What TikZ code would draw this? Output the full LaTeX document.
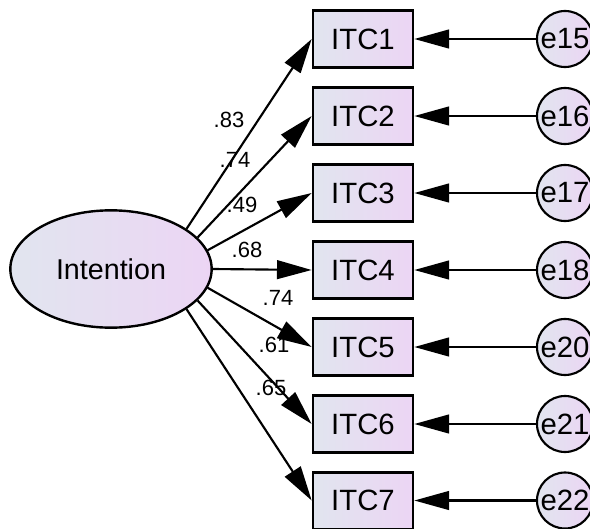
\documentclass[tikz,border=0pt]{standalone}
\usepackage{fontspec}
\setmainfont{Liberation Sans}
\usetikzlibrary{shapes.geometric,arrows.meta}

\definecolor{shadeL}{RGB}{225,229,239}
\definecolor{shadeR}{RGB}{236,213,244}

\tikzset{every picture/.style={line width=0.75pt}}
\tikzset{
  obs/.style={draw, line width=2, left color=shadeL, right color=shadeR, minimum width=75pt, minimum height=42.5pt, inner sep=0pt, font=\fontsize{22}{22}\selectfont},
  err/.style={draw, circle, line width=1.6, left color=shadeL, right color=shadeR, minimum size=42pt, inner sep=0pt, font=\fontsize{22}{22}\selectfont},
  lat/.style={draw, ellipse, line width=1.8, left color=shadeL, right color=shadeR, minimum width=151pt, minimum height=88pt, inner sep=0pt, font=\fontsize{21.5}{21.5}\selectfont},
  path/.style={line width=1.6, -{Triangle[length=26pt,width=14pt]}},
  coef/.style={font=\fontsize{16.5}{16.5}\selectfont, inner sep=0pt}
}

\begin{document}
\begin{tikzpicture}[x=0.75pt,y=0.75pt,yscale=-1,xscale=1]
\clip (0,0) rectangle (590,529); %set diagram size 590 x 529

%Shape: Ellipse
\node [lat] (intent) at (111,269) {Intention};

%Shape: Rectangle
\node [obs] (itc1) at (363,39) {ITC1};
\node [obs] (itc2) at (363,116) {ITC2};
\node [obs] (itc3) at (363,193) {ITC3};
\node [obs] (itc4) at (363,270) {ITC4};
\node [obs] (itc5) at (363,347) {ITC5};
\node [obs] (itc6) at (363,424) {ITC6};
\node [obs] (itc7) at (363,500.5) {ITC7};

%Shape: Circle
\node [err] (e15) at (565,39) {e15};
\node [err] (e16) at (565,116) {e16};
\node [err] (e17) at (565,193) {e17};
\node [err] (e18) at (565,270) {e18};
\node [err] (e20) at (565,347) {e20};
\node [err] (e21) at (565,424) {e21};
\node [err] (e22) at (565,500.5) {e22};

%Straight Lines
\draw [path] (intent.28) -- (itc1.west);
\draw [path] (intent.20) -- (itc2.west);
\draw [path] (intent.11) -- (itc3.west);
\draw [path] (intent.0) -- (itc4.west);
\draw [path] (intent.-11) -- (itc5.west);
\draw [path] (intent.-20) -- (itc6.west);
\draw [path] (intent.-28) -- (itc7.west);

\draw [path] (e15) -- (itc1);
\draw [path] (e16) -- (itc2);
\draw [path] (e17) -- (itc3);
\draw [path] (e18) -- (itc4);
\draw [path] (e20) -- (itc5);
\draw [path] (e21) -- (itc6);
\draw [path] (e22) -- (itc7);

% Text Node
\node [coef] (w1) at (229,120) {.83};
\node [coef] (w2) at (235,160) {.74};
\node [coef] (w3) at (242,205) {.49};
\node [coef] (w4) at (247,250) {.68};
\node [coef] (w5) at (278,298) {.74};
\node [coef] (w6) at (274,345) {.61};
\node [coef] (w7) at (271,388) {.65};

\end{tikzpicture}
\end{document}
